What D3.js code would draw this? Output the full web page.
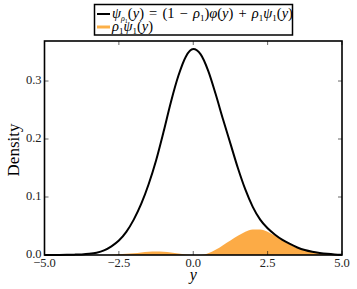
<!DOCTYPE html>
<html>
<head>
<meta charset="utf-8">
<script src="https://cdn.jsdelivr.net/npm/d3@7"></script>
<style>
  body { margin: 0; background: #fff; }
  svg text { font-family: "Liberation Serif", "DejaVu Serif", serif; }
</style>
</head>
<body>
<svg id="chart" width="357" height="289"></svg>
<script>
// data
const xs = [-5, -4.75, -4.5, -4.25, -4, -3.75, -3.5, -3.25, -3, -2.75, -2.5, -2.25, -2, -1.75, -1.5, -1.25, -1, -0.75, -0.5, -0.25,
    0, 0.25, 0.5, 0.75, 1, 1.25, 1.5, 1.75, 2, 2.25, 2.5, 2.75, 3, 3.25, 3.5, 3.75, 4, 4.25, 4.5, 4.75, 5]
const mixture = [0, 0.0001, 0.0002, 0.0004, 0.0006, 0.001, 0.002, 0.004, 0.008, 0.015, 0.025, 0.040, 0.061, 0.088, 0.122, 0.163, 0.212, 0.264, 0.309, 0.342,
    0.355, 0.346, 0.318, 0.278, 0.234, 0.192, 0.150, 0.113, 0.083, 0.061, 0.046, 0.035, 0.026, 0.019, 0.013, 0.0085, 0.0055, 0.0035, 0.002, 0.001, 0.0005]
const component = [0, 0, 0, 0, 0, 0, 0, 0, 0.0002, 0.0006, 0.0012, 0.0022, 0.0032, 0.0045, 0.0055, 0.006, 0.0055, 0.0042, 0.0026, 0.001,
    0.0002, 0.0001, 0.003, 0.009, 0.017, 0.025, 0.033, 0.040, 0.044, 0.044, 0.040, 0.033, 0.025, 0.018, 0.012, 0.008, 0.005, 0.003, 0.002, 0.001, 0.0005]
const xTicks = [-5, -2.5, 0, 2.5, 5]
const yTicks = [0, 0.1, 0.2, 0.3]

const svg = d3.select('#chart')
const mLeft = 44.5, mRight = 342, mTop = 41, mBottom = 255

const x = d3.scaleLinear().domain([-5, 5]).range([mLeft, mRight])
const y = d3.scaleLinear().domain([0, 0.369]).range([mBottom, mTop])

const fmt = d => d3.format('.1f')(d).replace('-', '\u2212')

// orange filled component
const area = d3.area()
    .x((d, i) => x(xs[i]))
    .y0(y(0))
    .y1(d => y(d))
    .curve(d3.curveMonotoneX)
svg.append('path')
    .attr('d', area(component))
    .attr('fill', '#fca63c')
    .attr('opacity', 0.95)

// black mixture line
const line = d3.line()
    .x((d, i) => x(xs[i]))
    .y(d => y(d))
    .curve(d3.curveMonotoneX)
svg.append('path')
    .attr('d', line(mixture))
    .attr('fill', 'none')
    .attr('stroke', '#000')
    .attr('stroke-width', 2)

// ticks (inside, on all four sides)
const g = svg.append('g').attr('stroke', '#000').attr('stroke-width', 0.6)
xTicks.forEach(t => {
    g.append('line').attr('x1', x(t)).attr('x2', x(t)).attr('y1', mBottom).attr('y2', mBottom - 4)
    g.append('line').attr('x1', x(t)).attr('x2', x(t)).attr('y1', mTop).attr('y2', mTop + 4)
})
yTicks.forEach(t => {
    g.append('line').attr('x1', mLeft).attr('x2', mLeft + 4).attr('y1', y(t)).attr('y2', y(t))
    g.append('line').attr('x1', mRight).attr('x2', mRight - 4).attr('y1', y(t)).attr('y2', y(t))
})

// frame
svg.append('rect')
    .attr('x', mLeft).attr('y', mTop)
    .attr('width', mRight - mLeft).attr('height', mBottom - mTop)
    .attr('fill', 'none').attr('stroke', '#000').attr('stroke-width', 1.6)

// tick labels
svg.selectAll('.xt').data(xTicks).enter().append('text')
    .attr('x', d => x(d)).attr('y', mBottom + 12)
    .attr('text-anchor', 'middle').attr('font-size', 12.5).attr('fill', '#222')
    .text(fmt)
svg.selectAll('.yt').data(yTicks).enter().append('text')
    .attr('x', mLeft - 3).attr('y', d => y(d) + 3)
    .attr('text-anchor', 'end').attr('font-size', 12.5).attr('fill', '#222')
    .text(fmt)

// axis labels
svg.append('text')
    .attr('x', x(0)).attr('y', 280)
    .attr('text-anchor', 'middle').attr('font-size', 16).attr('font-style', 'italic')
    .text('y')
svg.append('text')
    .attr('transform', `translate(19,${(mTop + mBottom) / 2 + 2}) rotate(-90)`)
    .attr('text-anchor', 'middle').attr('font-size', 17)
    .text('Density')

// legend
const leg = svg.append('g')
leg.append('rect')
    .attr('x', 94.5).attr('y', 4.5).attr('width', 198).attr('height', 30.5)
    .attr('fill', '#fff').attr('stroke', '#000').attr('stroke-width', 1.5)
leg.append('line').attr('x1', 97).attr('x2', 110).attr('y1', 14).attr('y2', 14)
    .attr('stroke', '#000').attr('stroke-width', 2)
leg.append('line').attr('x1', 97).attr('x2', 110).attr('y1', 27).attr('y2', 27)
    .attr('stroke', '#fcb048').attr('stroke-width', 3)

// math-ish text built from tspans: [text, italic, size, dy]
const addParts = (t, parts) => parts.forEach(([s, it, fs, dy]) => {
    const ts = t.append('tspan').text(s)
    if (it) ts.attr('font-style', 'italic')
    if (fs) ts.attr('font-size', fs)
    if (dy) ts.attr('dy', dy)
})
const t1 = leg.append('text').attr('x', 112).attr('y', 18).attr('font-size', 14.5).attr('word-spacing', 1.5)
addParts(t1, [
    ['\u03c8', true], ['\u03c1', true, 8, 3], ['1', false, 6, 2], ['(', false, 0, -5], ['y', true], [') = (1 \u2212 '],
    ['\u03c1', true], ['1', false, 9, 3], [')', false, 0, -3], ['\u03c6', true], ['('], ['y', true], [') + '],
    ['\u03c1', true], ['1', false, 9, 3], ['\u03c8', true, 0, -3], ['1', false, 9, 3], ['(', false, 0, -3], ['y', true], [')']
])
const t2 = leg.append('text').attr('x', 112).attr('y', 31).attr('font-size', 14.5)
addParts(t2, [
    ['\u03c1', true], ['1', false, 9, 3], ['\u03c8', true, 0, -3], ['1', false, 9, 3], ['(', false, 0, -3], ['y', true], [')']
])
</script>
</body>
</html>
